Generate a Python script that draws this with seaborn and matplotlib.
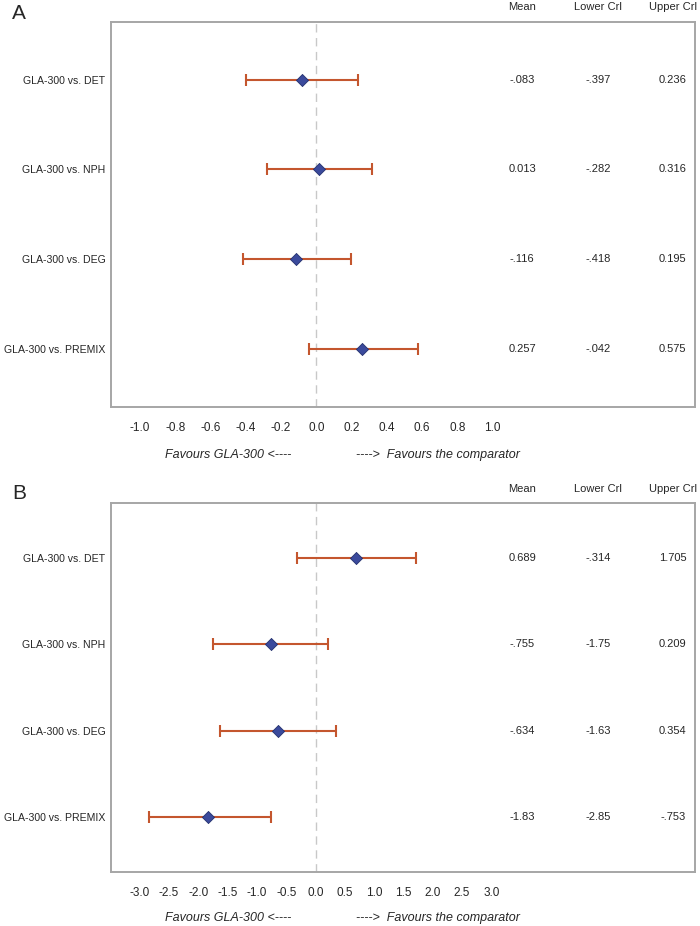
import numpy as np
import pandas as pd
import matplotlib
matplotlib.use("Agg")
import matplotlib.pyplot as plt
import seaborn as sns

# Data
comparisons = ["GLA-300 vs. DET", "GLA-300 vs. NPH", "GLA-300 vs. DEG", "GLA-300 vs. PREMIX"]

a_mean = [-0.083, 0.013, -0.116, 0.257]
a_lower = [-0.397, -0.282, -0.418, -0.042]
a_upper = [0.236, 0.316, 0.195, 0.575]
a_mean_txt = ["-.083", "0.013", "-.116", "0.257"]
a_lower_txt = ["-.397", "-.282", "-.418", "-.042"]
a_upper_txt = ["0.236", "0.316", "0.195", "0.575"]
a_ticks = [-1.0, -0.8, -0.6, -0.4, -0.2, 0.0, 0.2, 0.4, 0.6, 0.8, 1.0]

b_mean = [0.689, -0.755, -0.634, -1.83]
b_lower = [-0.314, -1.75, -1.63, -2.85]
b_upper = [1.705, 0.209, 0.354, -0.753]
b_mean_txt = ["0.689", "-.755", "-.634", "-1.83"]
b_lower_txt = ["-.314", "-1.75", "-1.63", "-2.85"]
b_upper_txt = ["1.705", "0.209", "0.354", "-.753"]
b_ticks = [-3.0, -2.5, -2.0, -1.5, -1.0, -0.5, 0.0, 0.5, 1.0, 1.5, 2.0, 2.5, 3.0]

sns.set_style("white")
plt.rcParams["font.family"] = ["Liberation Sans Narrow", "Liberation Sans", "DejaVu Sans"]

bar_color = "#c4562e"
dot_color = "#3b4a9c"
frame_color = "#a6a6a6"


def forest(ax, mean, lower, upper, mtxt, ltxt, utxt, ticks, xlim):
    df = pd.DataFrame({"label": comparisons, "mean": mean, "lower": lower, "upper": upper})
    df["pos"] = np.arange(len(df))
    ax.axvline(0, color="#c8c8c8", lw=1.0, ls=(0, (6, 4)), zorder=0)
    ax.errorbar(df["mean"], df["pos"],
                xerr=[df["mean"] - df["lower"], df["upper"] - df["mean"]],
                fmt="none", ecolor=bar_color, elinewidth=1.5, capsize=4, capthick=1.5, zorder=2)
    sns.scatterplot(data=df, x="mean", y="pos", marker="D", s=38, color=dot_color,
                    edgecolor="#24306e", linewidth=0.6, ax=ax, zorder=3)
    ax.set_xlim(*xlim)
    ax.set_ylim(len(df) - 1 + 0.64, -0.64)
    ax.set_yticks(df["pos"])
    ax.set_yticklabels(df["label"], fontsize=7.6)
    ax.set_xticks(ticks)
    ax.set_xticklabels([f"{t:.1f}" for t in ticks], fontsize=8.5)
    ax.set_xlabel("")
    ax.set_ylabel("")
    ax.tick_params(axis="y", length=0, pad=4)
    ax.tick_params(axis="x", length=5, width=0.8, color=frame_color, pad=6)
    for sp in ax.spines.values():
        sp.set_color(frame_color)
        sp.set_linewidth(1.4)
        sp.set_visible(True)
    tr = ax.get_yaxis_transform()
    cols = [0.704, 0.834, 0.962]
    for x, head in zip(cols, ["Mean", "Lower Crl", "Upper Crl"]):
        ax.text(x, 1.038, head, transform=ax.transAxes, ha="center", va="center", fontsize=8)
    for i in range(len(df)):
        for x, vals in zip(cols, [mtxt, ltxt, utxt]):
            ax.text(x, i, vals[i], transform=tr, ha="center", va="center", fontsize=8)
    ax.text(0.2, -0.125, "Favours GLA-300 <----", transform=ax.transAxes, ha="center",
            va="center", fontsize=9, style="italic")
    ax.text(0.56, -0.125, "---->  Favours the comparator", transform=ax.transAxes, ha="center",
            va="center", fontsize=9, style="italic")


fig = plt.figure(figsize=(7, 9.26), dpi=100)
ax_a = fig.add_axes([0.1586, 0.5605, 0.834, 0.4158])
ax_b = fig.add_axes([0.1586, 0.0583, 0.834, 0.3985])

forest(ax_a, a_mean, a_lower, a_upper, a_mean_txt, a_lower_txt, a_upper_txt, a_ticks, (-1.164, 2.147))
forest(ax_b, b_mean, b_lower, b_upper, b_mean_txt, b_lower_txt, b_upper_txt, b_ticks, (-3.49, 6.47))

fig.text(0.017, 0.985, "A", fontsize=15, ha="left", va="center")
fig.text(0.017, 0.467, "B", fontsize=15, ha="left", va="center")

fig.savefig("out.png", dpi=100)
